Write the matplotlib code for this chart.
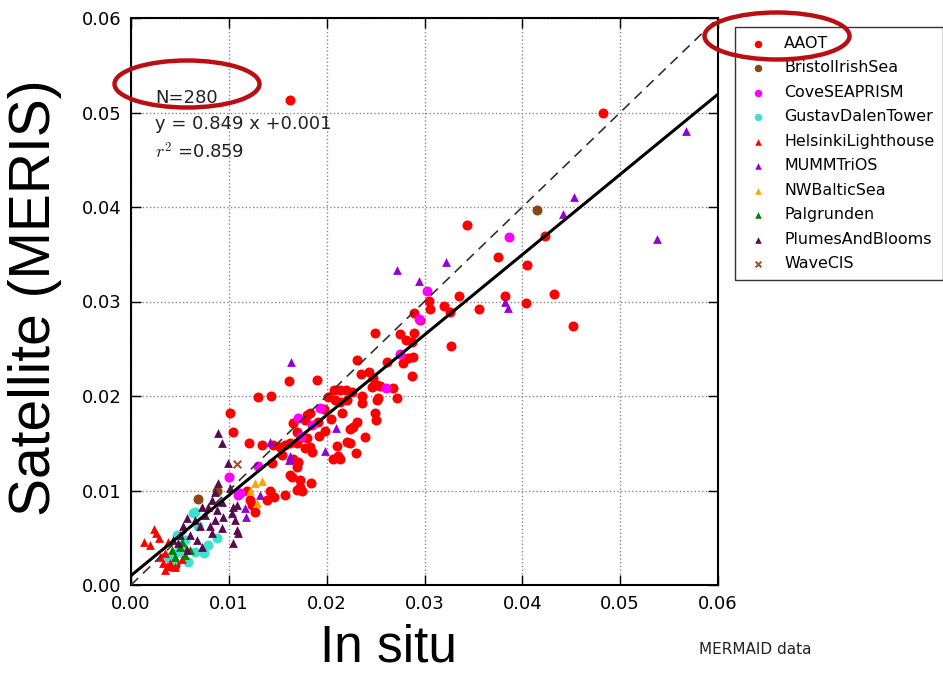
import matplotlib
matplotlib.use('Agg')
import matplotlib.pyplot as plt
import matplotlib.patches as patches
import numpy as np

plt.rcParams['mathtext.fontset'] = 'cm'

# site data (in situ, satellite)
aaot_x = [0.0163, 0.0482, 0.0343, 0.0423, 0.0375, 0.0405, 0.0335, 0.0382, 0.0432, 0.0404,
          0.0320, 0.0326, 0.0356, 0.0306, 0.0452, 0.0289, 0.0327, 0.0275, 0.0281, 0.0287,
          0.0289, 0.0288, 0.0305, 0.0295, 0.0249, 0.0278, 0.0231, 0.0235, 0.0243, 0.0247,
          0.0251, 0.0246, 0.0255, 0.0268, 0.0287, 0.0226, 0.0214, 0.0207, 0.0272, 0.0252,
          0.0283, 0.0161, 0.0190, 0.0220, 0.0236, 0.0251, 0.0249, 0.0250, 0.0130, 0.0143,
          0.0201, 0.0209, 0.0214, 0.0221, 0.0216, 0.0236, 0.0231, 0.0227, 0.0224, 0.0239,
          0.0221, 0.0224, 0.0211, 0.0230, 0.0206, 0.0214, 0.0198, 0.0191, 0.0183, 0.0180,
          0.0178, 0.0166, 0.0170, 0.0175, 0.0180, 0.0183, 0.0178, 0.0185, 0.0170, 0.0163,
          0.0157, 0.0152, 0.0145, 0.0134, 0.0121, 0.0154, 0.0166, 0.0171, 0.0170, 0.0144,
          0.0163, 0.0173, 0.0173, 0.0170, 0.0184, 0.0175, 0.0157, 0.0146, 0.0142, 0.0139,
          0.0122, 0.0127, 0.0119, 0.0101, 0.0104, 0.0212, 0.0165, 0.0124, 0.0045, 0.0035,
          0.0052, 0.0040, 0.0197, 0.0204, 0.0192, 0.0262]
aaot_y = [0.0513, 0.0500, 0.0381, 0.0369, 0.0347, 0.0339, 0.0306, 0.0306, 0.0308, 0.0298,
          0.0295, 0.0289, 0.0292, 0.0292, 0.0274, 0.0288, 0.0253, 0.0266, 0.0259, 0.0257,
          0.0267, 0.0241, 0.0301, 0.0280, 0.0267, 0.0235, 0.0238, 0.0223, 0.0225, 0.0219,
          0.0212, 0.0209, 0.0211, 0.0208, 0.0221, 0.0204, 0.0206, 0.0206, 0.0198, 0.0198,
          0.0240, 0.0216, 0.0217, 0.0206, 0.0200, 0.0196, 0.0182, 0.0175, 0.0199, 0.0200,
          0.0199, 0.0196, 0.0194, 0.0196, 0.0182, 0.0193, 0.0173, 0.0167, 0.0165, 0.0157,
          0.0151, 0.0150, 0.0147, 0.0140, 0.0133, 0.0133, 0.0163, 0.0172, 0.0182, 0.0180,
          0.0175, 0.0171, 0.0162, 0.0157, 0.0156, 0.0146, 0.0145, 0.0141, 0.0150, 0.0150,
          0.0148, 0.0146, 0.0148, 0.0148, 0.0150, 0.0138, 0.0133, 0.0130, 0.0125, 0.0129,
          0.0116, 0.0111, 0.0104, 0.0101, 0.0108, 0.0099, 0.0095, 0.0093, 0.0099, 0.0090,
          0.0090, 0.0077, 0.0099, 0.0182, 0.0162, 0.0137, 0.0114, 0.0085, 0.0021, 0.0030,
          0.0040, 0.0020, 0.0186, 0.0176, 0.0158, 0.0236]

bristol_x = [0.0415, 0.0068, 0.0088]
bristol_y = [0.0397, 0.0091, 0.0100]

cove_x = [0.0386, 0.0303, 0.0294, 0.0275, 0.0261, 0.0193, 0.0171, 0.0185, 0.0174, 0.0130,
          0.0111, 0.0100, 0.0109]
cove_y = [0.0368, 0.0311, 0.0281, 0.0244, 0.0208, 0.0187, 0.0177, 0.0169, 0.0158, 0.0126,
          0.0097, 0.0114, 0.0095]

gustav_x = [0.0088, 0.0079, 0.0075, 0.0065, 0.0058, 0.0048, 0.0043, 0.0047, 0.0063, 0.0068,
            0.0042, 0.0055, 0.0065, 0.0037, 0.0050]
gustav_y = [0.0050, 0.0042, 0.0034, 0.0035, 0.0024, 0.0035, 0.0030, 0.0053, 0.0076, 0.0062,
            0.0024, 0.0048, 0.0077, 0.0030, 0.0040]

helsinki_x = [0.0026, 0.0029, 0.0019, 0.0038, 0.0035, 0.0033, 0.0045, 0.0035, 0.0040, 0.0023,
              0.0013, 0.0052, 0.0030]
helsinki_y = [0.0055, 0.0050, 0.0042, 0.0046, 0.0034, 0.0023, 0.0019, 0.0016, 0.0023, 0.0059,
              0.0045, 0.0027, 0.0030]

mumm_x = [0.0567, 0.0538, 0.0453, 0.0442, 0.0322, 0.0272, 0.0294, 0.0382, 0.0385, 0.0164,
          0.0210, 0.0198, 0.0142, 0.0162, 0.0132, 0.0163, 0.0117, 0.0118]
mumm_y = [0.0480, 0.0366, 0.0411, 0.0393, 0.0342, 0.0333, 0.0322, 0.0299, 0.0293, 0.0236,
          0.0166, 0.0142, 0.0151, 0.0132, 0.0095, 0.0137, 0.0081, 0.0072]

nwbaltic_x = [0.0127, 0.0134, 0.0129, 0.0122]
nwbaltic_y = [0.0108, 0.0110, 0.0087, 0.0099]

palgrunden_x = [0.0050, 0.0055, 0.0045, 0.0060, 0.0042, 0.0052]
palgrunden_y = [0.0040, 0.0032, 0.0030, 0.0037, 0.0037, 0.0045]

plumes_x = [0.0089, 0.0093, 0.0099, 0.0089, 0.0086, 0.0083, 0.0079, 0.0073, 0.0076, 0.0088,
            0.0093, 0.0101, 0.0104, 0.0094, 0.0086, 0.0081, 0.0071, 0.0065, 0.0057, 0.0053,
            0.0050, 0.0060, 0.0067, 0.0073, 0.0083, 0.0093, 0.0108, 0.0104, 0.0106, 0.0103,
            0.0048, 0.0057, 0.0043, 0.0109, 0.0108]
plumes_y = [0.0161, 0.0150, 0.0129, 0.0108, 0.0098, 0.0090, 0.0083, 0.0083, 0.0074, 0.0079,
            0.0088, 0.0103, 0.0083, 0.0072, 0.0069, 0.0062, 0.0062, 0.0069, 0.0071, 0.0062,
            0.0053, 0.0053, 0.0048, 0.0040, 0.0055, 0.0060, 0.0058, 0.0044, 0.0069, 0.0076,
            0.0044, 0.0037, 0.0048, 0.0055, 0.0085]

wavecis_x = [0.0108]
wavecis_y = [0.0128]

slope, intercept = 0.849, 0.001
n_points, r2 = 280, 0.859

ticks = [0.00, 0.01, 0.02, 0.03, 0.04, 0.05, 0.06]

W, H = 943, 677
fig = plt.figure(figsize=(W / 100, H / 100), dpi=100)
ax = fig.add_axes([131 / W, 1 - 585 / H, 587 / W, 567 / H])

series = [
    ('AAOT', aaot_x, aaot_y, 'o', '#FF0000', 52),
    ('BristolIrishSea', bristol_x, bristol_y, 'o', '#8B4513', 52),
    ('CoveSEAPRISM', cove_x, cove_y, 'o', '#FF00FF', 52),
    ('GustavDalenTower', gustav_x, gustav_y, 'o', '#40E0D0', 52),
    ('HelsinkiLighthouse', helsinki_x, helsinki_y, '^', '#FF0000', 40),
    ('MUMMTriOS', mumm_x, mumm_y, '^', '#9400D3', 40),
    ('NWBalticSea', nwbaltic_x, nwbaltic_y, '^', '#FFA500', 40),
    ('Palgrunden', palgrunden_x, palgrunden_y, '^', '#008000', 40),
    ('PlumesAndBlooms', plumes_x, plumes_y, '^', '#5A0A50', 40),
    ('WaveCIS', wavecis_x, wavecis_y, 'x', '#A0522D', 30),
]
for name, xs, ys, mk, col, s in series:
    if mk == 'x':
        ax.scatter(xs, ys, marker=mk, c=col, s=s, linewidths=1.5, label=name, zorder=3)
    else:
        ax.scatter(xs, ys, marker=mk, c=col, s=s, linewidths=0, label=name, zorder=3)

# 1:1 line and regression line
line = np.array([0.0, 0.06])
ax.plot(line, line, '--', color='#333333', lw=1.2, dashes=(6, 4), zorder=4)
ax.plot(line, slope * line + intercept, '-', color='black', lw=2.2, zorder=5)

ax.set_xlim(0, 0.06)
ax.set_ylim(0, 0.06)
ax.set_xticks(ticks)
ax.set_yticks(ticks)
ax.set_xticklabels([f'{t:.2f}' for t in ticks])
ax.set_yticklabels([f'{t:.2f}' for t in ticks])
ax.tick_params(direction='in', top=True, right=True, length=7, width=1, labelsize=13, pad=7)
ax.grid(True, linestyle=':', color='#888888', lw=1)
for sp in ax.spines.values():
    sp.set_linewidth(1.5)

ax.text(0.0025, 0.0515, f'N={n_points}', fontsize=13, va='center', color='#222222')
ax.text(0.0025, 0.0488, f'y = {slope:.3f} x +{intercept:.3f}', fontsize=13, va='center', color='#222222')
ax.text(0.0025, 0.0458, f'$r^2$ ={r2:.3f}', fontsize=13, va='center', color='#222222')

leg = fig.legend(loc='upper left', bbox_to_anchor=(735 / W, 1 - 27 / H), fontsize=11.4,
                 scatterpoints=1, markerscale=0.75, frameon=True, fancybox=False,
                 borderaxespad=0, labelspacing=0.6, handletextpad=0.75, borderpad=0.55,
                 handlelength=1.8)
leg.get_frame().set_edgecolor('black')
leg.get_frame().set_linewidth(1.0)

fig.text(35 / W, 1 - 298 / H, 'Satellite (MERIS)', rotation=90, ha='center', va='center',
         fontsize=41, family='Liberation Sans')
fig.text(389 / W, 1 - 648 / H, 'In situ', ha='center', va='center',
         fontsize=37, family='Liberation Sans')
fig.text(755 / W, 1 - 649 / H, 'MERMAID data', ha='center', va='center', fontsize=11,
         color='#222222')

# red highlight ellipses
for cx, cy in [(187, 84), (777, 36)]:
    fig.add_artist(patches.Ellipse((cx / W, 1 - cy / H), 145 / W, 47 / H,
                                   transform=fig.transFigure, fill=False,
                                   edgecolor='#BA0F12', lw=3.2, zorder=10))

fig.savefig('out.png', dpi=100)
